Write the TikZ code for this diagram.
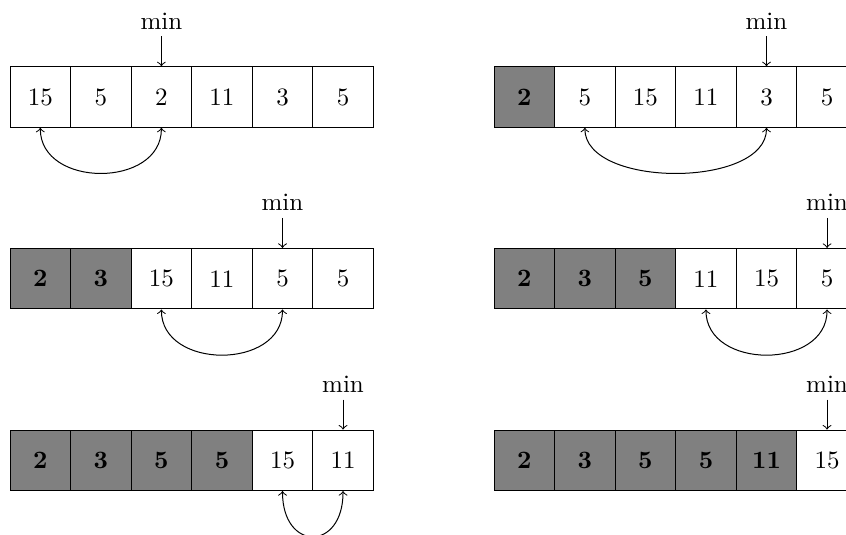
\documentclass[tikz,border=0pt]{standalone}
\usetikzlibrary{calc}
\tikzset{
  cell/.style={draw, minimum size=24.22pt, inner sep=0pt, line width=0.4pt},
  donecell/.style={cell, fill=gray, font=\bfseries},
  minlabel/.style={anchor=south, inner sep=2.6pt},
  minarrow/.style={->},
  swaparrow/.style={<->},
}
\begin{document}
\begin{tikzpicture}[x=0.4pt,y=-0.4pt]
\useasboundingbox (0,0) rectangle (846,534);
\clip (0,0) rectangle (846,534);
\foreach \name/\ox/\oy/\vals/\k in {
  A/40.3/97/{15,5,2,11,3,5}/0,
  B/524.3/97/{2,5,15,11,3,5}/1,
  C/40.3/278.7/{2,3,15,11,5,5}/2,
  D/524.3/278.7/{2,3,5,11,15,5}/3,
  E/40.3/460.3/{2,3,5,5,15,11}/4,
  F/524.3/460.3/{2,3,5,5,11,15}/5}{
  \foreach \v [count=\i from 0] in \vals {
    \ifnum\i<\k
      \node[donecell] (\name\i) at ({\ox+60.55*\i},\oy) {\v};
    \else
      \node[cell] (\name\i) at ({\ox+60.55*\i},\oy) {\v};
    \fi
  }
}
% min labels
\node[minlabel] (mA) at ([yshift=12pt]A2.north) {min};
\node[minlabel] (mB) at ([yshift=12pt]B4.north) {min};
\node[minlabel] (mC) at ([yshift=12pt]C4.north) {min};
\node[minlabel] (mD) at ([yshift=12pt]D5.north) {min};
\node[minlabel] (mE) at ([yshift=12pt]E5.north) {min};
\node[minlabel] (mF) at ([yshift=12pt]F5.north) {min};
\draw[minarrow] (mA.south) -- (A2.north);
\draw[minarrow] (mB.south) -- (B4.north);
\draw[minarrow] (mC.south) -- (C4.north);
\draw[minarrow] (mD.south) -- (D5.north);
\draw[minarrow] (mE.south) -- (E5.north);
\draw[minarrow] (mF.south) -- (F5.north);
% swaps
\draw[swaparrow] (A0.south) .. controls +(0,60.55) and +(0,60.55) .. (A2.south);
\draw[swaparrow] (B1.south) .. controls +(0,60.55) and +(0,60.55) .. (B4.south);
\draw[swaparrow] (C2.south) .. controls +(0,60.55) and +(0,60.55) .. (C4.south);
\draw[swaparrow] (D3.south) .. controls +(0,60.55) and +(0,60.55) .. (D5.south);
\draw[swaparrow] (E4.south) .. controls +(0,60.55) and +(0,60.55) .. (E5.south);
\end{tikzpicture}
\end{document}
